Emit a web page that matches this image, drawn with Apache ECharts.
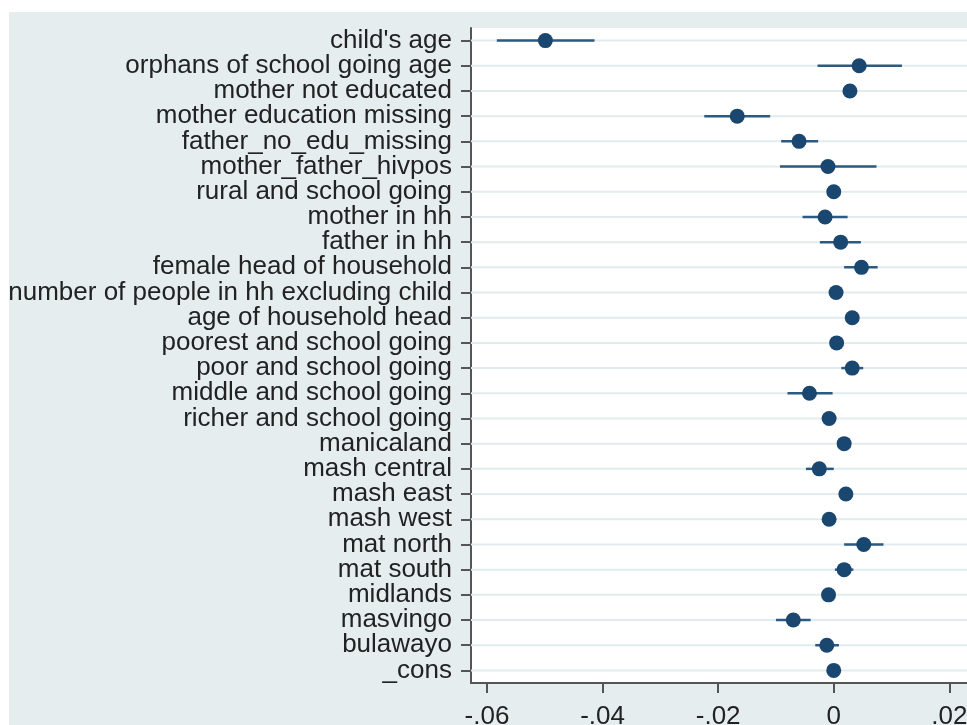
<!DOCTYPE html>
<html>
<head>
<meta charset="utf-8">
<script src="https://cdn.jsdelivr.net/npm/echarts@6/dist/echarts.min.js"></script>
<style>
html,body{margin:0;padding:0;background:#fff;}
#chart{width:967px;height:725px;}
</style>
</head>
<body>
<div id="chart"></div>
<script>
const categories = ["child's age","orphans of school going age","mother not educated","mother education missing","father_no_edu_missing","mother_father_hivpos","rural and school going","mother in hh","father in hh","female head of household","number of people in hh excluding child","age of household head","poorest and school going","poor and school going","middle and school going","richer and school going","manicaland","mash central","mash east","mash west","mat north","mat south","midlands","masvingo","bulawayo","_cons"];
const coef  = [-0.0499, 0.0044, 0.0028, -0.0167, -0.0060, -0.0010, 0.0000, -0.0015, 0.0012, 0.0048, 0.0004, 0.0032, 0.0005, 0.0032, -0.0042, -0.0008, 0.0018, -0.0025, 0.0021, -0.0008, 0.0052, 0.0018, -0.0009, -0.0070, -0.0012, 0.0000];
const lower = [-0.0583, -0.0028, 0.0018, -0.0224, -0.0091, -0.0093, -0.0008, -0.0054, -0.0024, 0.0018, -0.0004, 0.0024, -0.0003, 0.0013, -0.0080, -0.0016, 0.0010, -0.0048, 0.0013, -0.0016, 0.0018, 0.0002, -0.0017, -0.0100, -0.0032, -0.0007];
const upper = [-0.0414, 0.0118, 0.0038, -0.0110, -0.0027, 0.0074, 0.0008, 0.0024, 0.0047, 0.0076, 0.0012, 0.0040, 0.0013, 0.0051, -0.0002, 0.0000, 0.0026, 0.0000, 0.0029, 0.0000, 0.0086, 0.0034, -0.0001, -0.0040, 0.0009, 0.0007];
const xTickValues = [-0.06, -0.04, -0.02, 0, 0.02];
const xTickLabels = ['-.06', '-.04', '-.02', '0', '.02'];
const xMin = -0.06277, xMax = 0.02306;

const FONT = "'Liberation Sans', Arial, sans-serif";
const chart = echarts.init(document.getElementById('chart'), null, {renderer: 'canvas'});

const option = {
  backgroundColor: '#ffffff',
  animation: false,
  graphic: [{
    type: 'rect', left: 9, top: 12, z: -10,
    shape: {width: 958, height: 713},
    style: {fill: '#e5edef'}
  }],
  grid: {
    left: 471, top: 28, right: 0, height: 655,
    outerBoundsMode: 'none', containLabel: false,
    show: true, backgroundColor: '#ffffff', borderWidth: 0
  },
  xAxis: {
    type: 'value', min: xMin, max: xMax,
    axisLine: {show: true, onZero: false, lineStyle: {color: '#555', width: 2}},
    axisTick: {show: true, customValues: xTickValues, length: 10, lineStyle: {color: '#555', width: 2}},
    axisLabel: {
      customValues: xTickValues, margin: 21,
      fontFamily: FONT, fontSize: 26, color: '#222',
      formatter: function (v) { const i = xTickValues.findIndex(t => Math.abs(t - v) < 1e-9); return i >= 0 ? xTickLabels[i] : ''; }
    },
    splitLine: {show: false}
  },
  yAxis: {
    type: 'category', data: categories, inverse: true, boundaryGap: true,
    axisLine: {show: true, onZero: false, lineStyle: {color: '#555', width: 2}},
    axisTick: {show: true, alignWithLabel: true, length: 10, lineStyle: {color: '#555', width: 2}},
    axisLabel: {margin: 19, fontFamily: FONT, fontSize: 26, color: '#222', interval: 0},
    splitLine: {show: false}
  },
  series: [
    {
      type: 'custom', z: 1, silent: true,
      data: categories.map((c, i) => [xMin, i]),
      encode: {x: 0, y: 1},
      renderItem: function (params, api) {
        const cs = params.coordSys;
        const y = api.coord([api.value(0), api.value(1)])[1];
        return {type: 'line', shape: {x1: cs.x, y1: y, x2: cs.x + cs.width, y2: y},
                style: {stroke: '#e2ebee', lineWidth: 2}};
      }
    },
    {
      type: 'custom', z: 2, silent: true,
      data: categories.map((c, i) => [lower[i], upper[i], i]),
      encode: {x: [0, 1], y: 2},
      renderItem: function (params, api) {
        const p1 = api.coord([api.value(0), api.value(2)]);
        const p2 = api.coord([api.value(1), api.value(2)]);
        return {type: 'line', shape: {x1: p1[0], y1: p1[1], x2: p2[0], y2: p2[1]},
                style: {stroke: '#2b5a82', lineWidth: 2.5}};
      }
    },
    {
      type: 'scatter', z: 3,
      data: categories.map((c, i) => [coef[i], i]),
      symbol: 'circle', symbolSize: 15,
      itemStyle: {color: '#1a476f', opacity: 1}
    }
  ]
};
chart.setOption(option);
</script>
</body>
</html>
